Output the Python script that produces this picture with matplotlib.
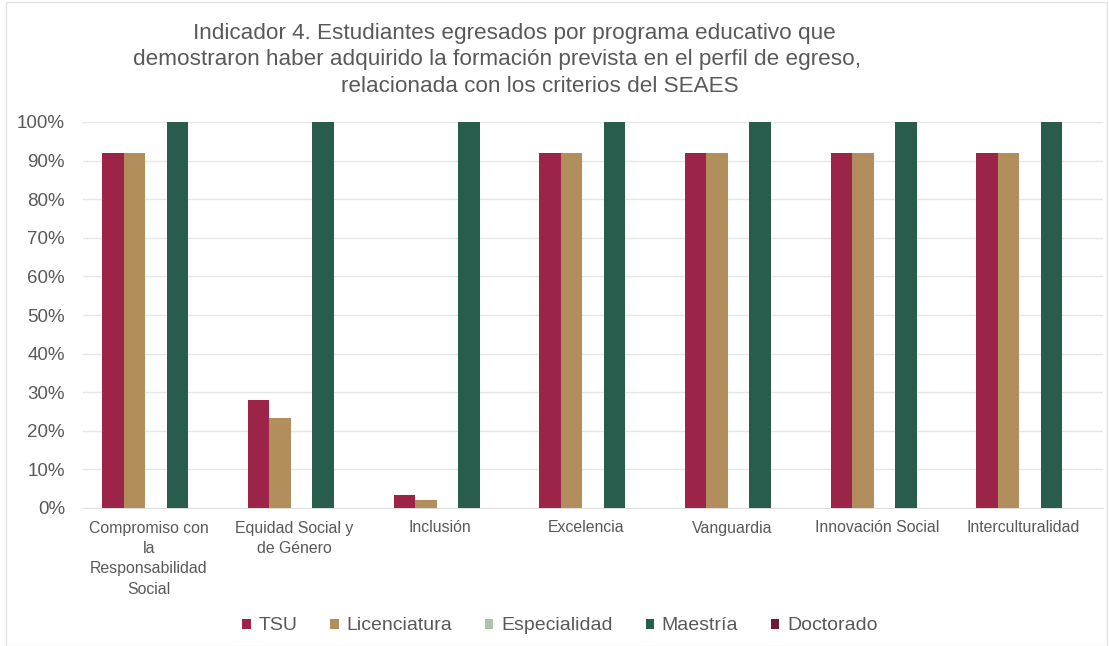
import matplotlib
matplotlib.use("Agg")
import matplotlib.pyplot as plt
import matplotlib.transforms as mtransforms
import numpy as np
from matplotlib.patches import Rectangle

plt.rcParams['font.family'] = ['Liberation Sans', 'DejaVu Sans']

categories = ["Compromiso con\nla\nResponsabilidad\nSocial", "Equidad Social y\nde Género", "Inclusión",
              "Excelencia", "Vanguardia", "Innovación Social", "Interculturalidad"]
series_names = ["TSU", "Licenciatura", "Especialidad", "Maestría", "Doctorado"]
tsu = [0.92, 0.28, 0.034, 0.92, 0.92, 0.92, 0.92]
licenciatura = [0.92, 0.232, 0.021, 0.92, 0.92, 0.92, 0.92]
especialidad = [0, 0, 0, 0, 0, 0, 0]
maestria = [1.0, 1.0, 1.0, 1.0, 1.0, 1.0, 1.0]
doctorado = [0, 0, 0, 0, 0, 0, 0]
yticks = [0, 0.1, 0.2, 0.3, 0.4, 0.5, 0.6, 0.7, 0.8, 0.9, 1.0]
ytick_labels = ["0%", "10%", "20%", "30%", "40%", "50%", "60%", "70%", "80%", "90%", "100%"]
title_lines = ["Indicador 4. Estudiantes egresados por programa educativo que",
               "demostraron haber adquirido la formación prevista en el perfil de egreso,",
               "relacionada con los criterios del SEAES"]

colors = ["#9D2449", "#B38E5D", "#A9C3AC", "#285C4D", "#6F1A33"]
values = [tsu, licenciatura, especialidad, maestria, doctorado]

W, H = 1109, 646
fig = plt.figure(figsize=(W/100, H/100), dpi=100)
ax = fig.add_axes([83/W, 1-508/H, (1103-83)/W, (508-122)/H])

x = np.arange(len(categories))
w = 0.738/5
for i, (name, vals, c) in enumerate(zip(series_names, values, colors)):
    ax.bar(x + (i-2)*w, vals, width=w, color=c, label=name, zorder=3)

ax.set_xlim(-0.5, len(categories)-0.5)
ax.set_ylim(0, 1.0)
ax.set_yticks(yticks)
ax.set_yticklabels(ytick_labels, fontsize=13.5, color="#595959")
ax.set_xticks(x)
ax.set_xticklabels(categories, fontsize=11.4, color="#595959", linespacing=1.45)
ax.tick_params(axis='both', length=0)
ax.tick_params(axis='y', pad=13)
ax.tick_params(axis='x', pad=9)
offset = mtransforms.ScaledTranslation(-7/100, 0, fig.dpi_scale_trans)
for lbl in ax.get_xticklabels():
    lbl.set_transform(lbl.get_transform() + offset)
ax.grid(axis='y', color="#E6E6E6", lw=1, zorder=0)
for s in ["top", "right", "left"]:
    ax.spines[s].set_visible(False)
ax.spines["bottom"].set_color("#E0E0E0")
ax.set_axisbelow(True)

centers = [514, 497, 540]
ys = [33, 59, 86]
for t, cx, cy in zip(title_lines, centers, ys):
    fig.text(cx/W, 1-cy/H, t, ha='center', va='center', fontsize=16.2, color="#595959")

leg = fig.legend(loc='center', bbox_to_anchor=(560/W, 1-626/H), ncol=5, frameon=False,
                 fontsize=14, handlelength=0.42, handleheight=0.42, handletextpad=0.4,
                 columnspacing=1.7, labelcolor="#595959")

fig.patches.append(Rectangle((6/W, 0), 1-8/W, 1-2/H, transform=fig.transFigure,
                             fill=False, edgecolor="#E3E3E3", lw=1))

fig.savefig("out.png", dpi=100)
